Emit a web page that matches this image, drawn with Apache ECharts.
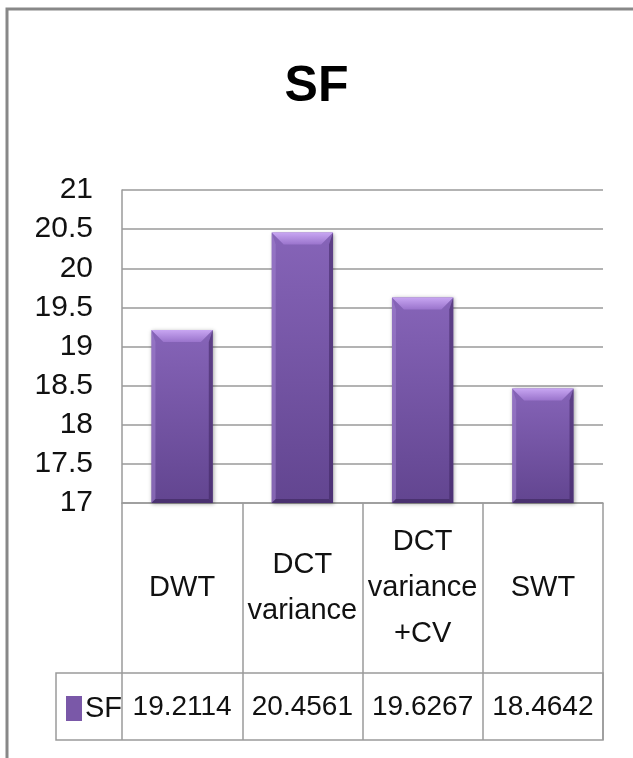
<!DOCTYPE html>
<html>
<head>
<meta charset="utf-8">
<script src="https://cdn.jsdelivr.net/npm/echarts@6/dist/echarts.min.js"></script>
<style>
  html, body { margin: 0; padding: 0; background: #fff; }
  #chart { width: 633px; height: 758px; }
</style>
</head>
<body>
<div id="chart"></div>
<script>
// data
const categories = ['DWT', 'DCT\nvariance', 'DCT\nvariance\n+CV', 'SWT'];
const sfValues = [19.2114, 20.4561, 19.6267, 18.4642];
const seriesName = 'SF';
const yMin = 17;
const yMax = 21;
const yStep = 0.5;

const font = "'Liberation Sans Narrow', 'Liberation Sans', sans-serif";
const lineColor = '#9a9a9a';

const myChart = echarts.init(document.getElementById('chart'));

// bevelled bar, like the excel one
const renderBar = (params, api) => {
  const top = api.coord([api.value(0), api.value(1)]);
  const base = api.coord([api.value(0), yMin]);
  const w = api.size([1, 0])[0] * 0.51;
  const x0 = top[0] - w / 2, x1 = top[0] + w / 2;
  const y0 = top[1], y1 = base[1];
  const b = 12, s = 4;
  return {
    type: 'group',
    children: [
      {
        type: 'rect',
        shape: { x: x0, y: y0, width: w, height: y1 - y0 },
        style: {
          fill: new echarts.graphic.LinearGradient(0, 0, 0, 1, [
            { offset: 0, color: '#8664b8' },
            { offset: 1, color: '#624590' }
          ]),
          shadowBlur: 4,
          shadowOffsetX: 1,
          shadowOffsetY: 1,
          shadowColor: 'rgba(0,0,0,0.35)'
        }
      },
      {
        // left side, a bit lighter
        type: 'polygon',
        shape: { points: [[x0, y0], [x0 + s, y0 + b], [x0 + s, y1 - s], [x0, y1]] },
        style: { fill: 'rgba(160,130,205,0.55)' }
      },
      {
        // right side, darker
        type: 'polygon',
        shape: { points: [[x1, y0], [x1, y1], [x1 - s, y1 - s], [x1 - s, y0 + b]] },
        style: { fill: 'rgba(60,35,95,0.55)' }
      },
      {
        // bottom edge
        type: 'polygon',
        shape: { points: [[x0, y1], [x1, y1], [x1 - s, y1 - s], [x0 + s, y1 - s]] },
        style: { fill: 'rgba(50,30,80,0.5)' }
      },
      {
        // top bevel
        type: 'polygon',
        shape: { points: [[x0, y0], [x1, y0], [x1 - b, y0 + b], [x0 + b, y0 + b]] },
        style: {
          fill: new echarts.graphic.LinearGradient(0, 0, 0, 1, [
            { offset: 0, color: '#c8a6f2' },
            { offset: 1, color: '#9a74cc' }
          ])
        }
      }
    ]
  };
};

const option = {
  animation: false,
  title: {
    text: 'SF',
    left: 'center',
    top: 57,
    textStyle: { fontFamily: font, fontSize: 50, fontWeight: 'bold', color: '#000' }
  },
  legend: {
    data: [seriesName],
    left: 66,
    top: 694,
    padding: 0,
    icon: 'rect',
    itemWidth: 16,
    itemHeight: 25,
    itemGap: 4,
    textStyle: { fontFamily: font, fontSize: 29, color: '#111', padding: [0, 0, 0, -2] }
  },
  grid: {
    left: 122,
    right: 30,
    top: 190,
    bottom: 255,
    containLabel: false
  },
  xAxis: [
    {
      type: 'category',
      data: categories,
      position: 'bottom',
      axisLine: { show: true, lineStyle: { color: lineColor, width: 1.5 } },
      axisTick: { show: true, interval: 0, length: 237, lineStyle: { color: lineColor, width: 1.5 } },
      axisLabel: {
        interval: 0,
        margin: 85,
        verticalAlign: 'middle',
        lineHeight: 46,
        fontFamily: font,
        fontSize: 29,
        color: '#111'
      },
      splitLine: { show: false }
    },
    {
      type: 'category',
      data: sfValues.map(v => v.toFixed(4)),
      position: 'bottom',
      axisLine: { show: false },
      axisTick: { show: false },
      axisLabel: {
        interval: 0,
        margin: 204,
        verticalAlign: 'middle',
        fontFamily: font,
        fontSize: 28,
        color: '#111'
      },
      splitLine: { show: false }
    }
  ],
  yAxis: {
    type: 'value',
    min: yMin,
    max: yMax,
    interval: yStep,
    axisLine: { show: true, lineStyle: { color: lineColor, width: 1.5 } },
    axisTick: { show: false },
    axisLabel: { margin: 29, fontFamily: font, fontSize: 30, color: '#111' },
    splitLine: { show: true, lineStyle: { color: lineColor, width: 1.5 } }
  },
  series: [{
    name: seriesName,
    type: 'custom',
    xAxisIndex: 0,
    renderItem: renderBar,
    encode: { x: 0, y: 1 },
    itemStyle: { color: '#7a58a8' },
    data: sfValues.map((v, i) => [i, v])
  }],
  graphic: [
    {
      // outer chart border (only top/left visible in the crop)
      type: 'rect',
      shape: { x: 7, y: 9, width: 700, height: 800 },
      style: { fill: 'none', stroke: '#888', lineWidth: 3 },
      silent: true
    },
    {
      // value row of the data table
      type: 'rect',
      shape: { x: 56, y: 673, width: 547, height: 67 },
      style: { fill: 'none', stroke: lineColor, lineWidth: 1.5 },
      silent: true
    }
  ]
};

myChart.setOption(option);
</script>
</body>
</html>
